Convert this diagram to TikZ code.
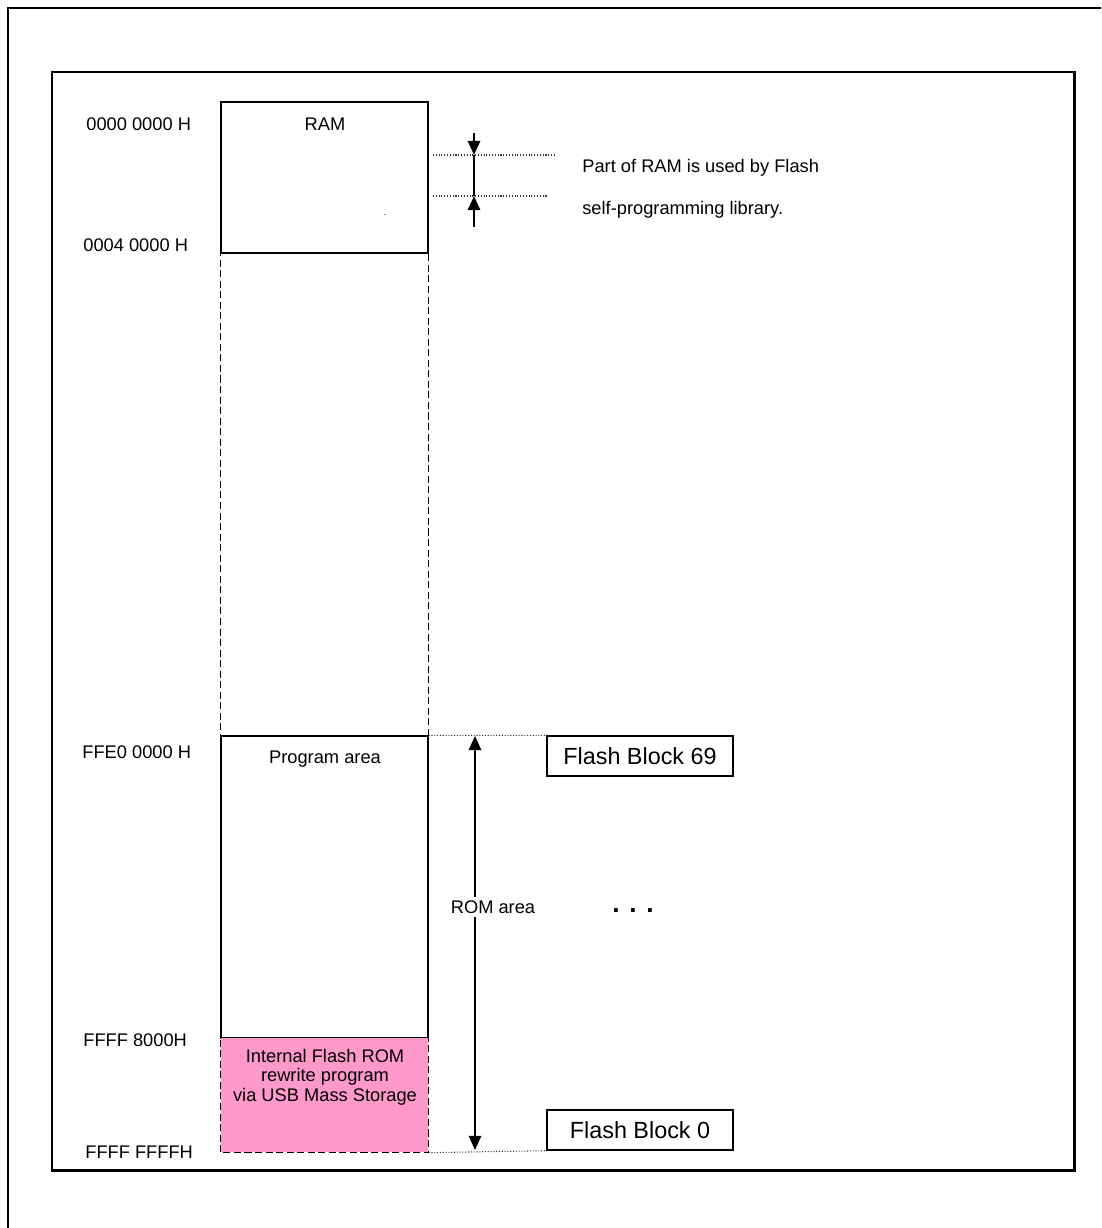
\documentclass[tikz,border=0pt]{standalone}
\usepackage{amsmath}
\usepackage{fontspec}
\setmainfont{Liberation Sans}
\usepackage{tikz}
\usetikzlibrary{arrows,arrows.meta}

\begin{document}
\begin{tikzpicture}[
  >={Triangle[length=8pt,width=7pt]},
  memory/.style={draw, line width=0.75pt, minimum width=4.14cm, anchor=center, inner sep=0pt},
  addr/.style={anchor=west, inner sep=0pt, font=\fontsize{10.4}{12.5}\selectfont},
  txt/.style={inner sep=0pt, font=\fontsize{10.4}{12.5}\selectfont},
  block/.style={draw, line width=0.75pt, minimum width=3.72cm, minimum height=0.8cm, anchor=center, font=\fontsize{13.3}{15}\selectfont},
  guide/.style={densely dotted, line width=0.6pt, black!80}
]
\clip (0,0) rectangle (22.02,-24.56);
\fill[white] (0,0) rectangle (22.02,-24.56);

% frames
\draw[line width=1.3pt] (0.16,-26) -- (0.16,-0.16) -- (23,-0.16);
\draw[line width=1.7pt] (1.04,-1.44) rectangle (21.48,-23.40);

% memory map
\node[memory, minimum height=3.02cm] (ram) at (6.49,-3.55) {};
\node[memory, minimum height=6.04cm] (prog) at (6.49,-17.74) {};
\node[memory, draw=none, minimum height=2.28cm, fill={rgb,255:red,255;green,153;blue,204}] (boot) at (6.49,-21.90) {};
\draw[line width=0.75pt] (boot.north west) -- (boot.north east);
\draw[line width=0.75pt, dash pattern=on 4pt off 2pt] (ram.north west) rectangle (boot.south east);

\node[txt] (ramlbl) at (6.5,-2.48) {RAM};
\node[txt] at (7.7,-4.3) {\fontsize{5}{6}\selectfont .};
\node[txt] (proglbl) at (6.5,-15.18) {Program area};
\node[txt, align=center, font=\fontsize{10.4}{11.1}\selectfont] (bootlbl) at (6.5,-21.54)
{Internal Flash ROM\\rewrite program\\via USB Mass Storage};

% addresses
\node[addr] (a1) at (1.72,-2.48) {0000 0000 H};
\node[addr] (a2) at (1.66,-4.90) {0004 0000 H};
\node[addr] (a3) at (1.64,-15.04) {FFE0 0000 H};
\node[addr] (a4) at (1.66,-20.80) {FFFF 8000H};
\node[addr] (a5) at (1.70,-23.04) {FFFF FFFFH};

% part of RAM used by the library
\coordinate (r1) at (9.48,-2.66);
\coordinate (r2) at (9.48,-3.10);
\coordinate (r3) at (9.48,-3.92);
\coordinate (r4) at (9.48,-4.54);
\coordinate (g1) at (8.66,-3.10);
\coordinate (g2) at (11.10,-3.10);
\coordinate (g3) at (8.66,-3.92);
\coordinate (g4) at (10.94,-3.92);
\draw[guide] (g1) -- (g2);
\draw[guide] (g3) -- (g4);
\draw[->, line width=1.1pt] (r1) -- (r2);
\draw[line width=1.1pt] (r2) -- (r3);
\draw[->, line width=1.1pt] (r4) -- (r3);
\node[txt, anchor=west] (note1) at (11.64,-3.36) {Part of RAM is used by Flash};
\node[txt, anchor=west] (note2) at (11.64,-4.20) {self-programming library.};

% flash blocks
\node[block] (fb69) at (12.80,-15.12) {Flash Block 69};
\node[block] (fb0) at (12.80,-22.60) {Flash Block 0};
\draw[guide] (prog.north east) -- (fb69.north west);
\draw[guide] (boot.south east) -- (fb0.south west);
\node[txt, font=\bfseries\fontsize{15}{17}\selectfont] (dots) at (12.66,-18.22) {.\hspace{5.5pt}.\hspace{5.5pt}.};

% ROM area
\coordinate (rom1) at (9.50,-14.72);
\coordinate (rom2) at (9.50,-23.00);
\draw[<->, line width=1.1pt] (rom1) -- (rom2);
\node[txt, fill=white, inner sep=2pt] (romlbl) at (9.86,-18.14) {ROM area};
\end{tikzpicture}
\end{document}
